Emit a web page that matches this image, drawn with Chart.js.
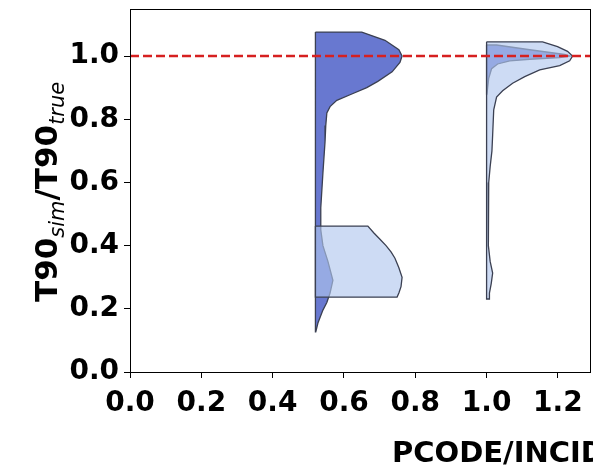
<!DOCTYPE html>
<html lang="en">
<head>
    <meta charset="UTF-8">
    <title>T90 ratio violins</title>
    <style>
        body { margin: 0; background: #fff; }
        canvas { display: block; }
    </style>
</head>
<body>
    <canvas id="violinChart" width="593" height="467"></canvas>

    <script src="https://cdn.jsdelivr.net/npm/chart.js"></script>
    <script>
        // violin positions on the x axis
        const positions = [0.52, 1.0];

        // half-violin profiles: y levels (top to bottom) and half widths
        const darkY1 = [1.076, 1.05, 1.02, 1.0, 0.98, 0.95, 0.92, 0.9, 0.88, 0.86, 0.84, 0.82, 0.78, 0.73, 0.63, 0.52, 0.45, 0.4, 0.35, 0.29, 0.25, 0.22, 0.196, 0.155, 0.127];
        const darkW1 = [0.130, 0.195, 0.234, 0.243, 0.237, 0.215, 0.175, 0.144, 0.102, 0.060, 0.041, 0.032, 0.029, 0.027, 0.021, 0.015, 0.015, 0.021, 0.035, 0.049, 0.041, 0.032, 0.021, 0.007, 0.001];

        const lightY1 = [0.462, 0.44, 0.42, 0.4, 0.38, 0.36, 0.33, 0.3, 0.27, 0.25, 0.237];
        const lightW1 = [0.147, 0.164, 0.181, 0.198, 0.212, 0.223, 0.234, 0.243, 0.240, 0.234, 0.229];

        const darkY2 = [1.035, 1.02, 1.005, 1.0, 0.995, 0.99, 0.985, 0.975, 0.96, 0.93, 0.9, 0.88];
        const darkW2 = [0.028, 0.121, 0.219, 0.233, 0.205, 0.121, 0.065, 0.031, 0.014, 0.006, 0.003, 0.001];

        const lightY2 = [1.045, 1.03, 1.015, 1.0, 0.985, 0.97, 0.956, 0.935, 0.914, 0.89, 0.87, 0.83, 0.75, 0.7, 0.65, 0.6, 0.5, 0.4, 0.35, 0.313, 0.28, 0.25, 0.231];
        const lightW2 = [0.157, 0.199, 0.227, 0.241, 0.233, 0.205, 0.149, 0.107, 0.073, 0.045, 0.028, 0.020, 0.017, 0.015, 0.010, 0.006, 0.004, 0.006, 0.010, 0.017, 0.013, 0.008, 0.008];

        const refLine = 1.0;
        const xTicks = [0.0, 0.2, 0.4, 0.6, 0.8, 1.0, 1.2];
        const yTicks = [0.0, 0.2, 0.4, 0.6, 0.8, 1.0];

        const darkFill = '#6878d0';
        const lightFill = 'rgba(176, 198, 238, 0.64)';
        const edge = '#3b4052';

        // closed outline: down the right side, back up the base line
        function halfViolin(base, ys, ws) {
            const pts = [{ x: base, y: ys[0] }];
            ys.forEach((y, i) => pts.push({ x: base + ws[i], y: y }));
            pts.push({ x: base, y: ys[ys.length - 1] });
            pts.push({ x: base, y: ys[0] });
            return pts;
        }

        function violinSet(data, fill, order) {
            return {
                data: data,
                showLine: true,
                fill: 'shape',
                backgroundColor: fill,
                borderColor: edge,
                borderWidth: 1.3,
                pointRadius: 0,
                tension: 0,
                order: order
            };
        }

        const frame = {
            id: 'frame',
            afterDatasetsDraw(chart) {
                const { ctx, chartArea: a } = chart;
                ctx.save();
                ctx.strokeStyle = '#000';
                ctx.lineWidth = 1;
                ctx.strokeRect(a.left + 0.5, a.top + 0.5, a.right - a.left, a.bottom - a.top);
                ctx.restore();
            },
            afterDraw(chart) {
                const ctx = chart.ctx;
                ctx.save();
                ctx.fillStyle = '#000';
                // x title
                ctx.font = 'bold 29px "DejaVu Sans"';
                ctx.textBaseline = 'alphabetic';
                ctx.fillText('PCODE/INCIDENT', 392, 462);
                // y title with subscripts
                ctx.translate(57, 302);
                ctx.rotate(-Math.PI / 2);
                const parts = [
                    ['T90', 'bold 31px "DejaVu Sans"', 0],
                    ['sim', 'italic 21px "DejaVu Sans"', 7],
                    ['/T90', 'bold 31px "DejaVu Sans"', 0],
                    ['true', 'italic 21px "DejaVu Sans"', 7]
                ];
                let x = 0;
                parts.forEach(([t, f, dy]) => {
                    ctx.font = f;
                    ctx.fillText(t, x, dy);
                    x += ctx.measureText(t).width;
                });
                ctx.restore();
            }
        };

        const tickFont = { family: 'DejaVu Sans', size: 28, weight: 'bold' };

        new Chart(document.getElementById('violinChart'), {
            type: 'scatter',
            data: {
                datasets: [
                    violinSet(halfViolin(positions[0], darkY1, darkW1), darkFill, 4),
                    violinSet(halfViolin(positions[0], lightY1, lightW1), lightFill, 3),
                    violinSet(halfViolin(positions[1], darkY2, darkW2), darkFill, 4),
                    violinSet(halfViolin(positions[1], lightY2, lightW2), lightFill, 3),
                    {
                        data: [{ x: 0, y: refLine }, { x: 1.29, y: refLine }],
                        showLine: true,
                        borderColor: '#d62020',
                        borderWidth: 2.5,
                        borderDash: [9, 4],
                        pointRadius: 0,
                        order: 1
                    }
                ]
            },
            options: {
                responsive: false,
                animation: false,
                devicePixelRatio: 1,
                layout: { padding: { top: 9, right: 3, left: 0, bottom: 0 } },
                plugins: {
                    legend: { display: false },
                    tooltip: { enabled: false }
                },
                scales: {
                    x: {
                        type: 'linear',
                        min: 0,
                        max: 1.29,
                        afterBuildTicks: s => { s.ticks = xTicks.map(v => ({ value: v })); },
                        afterFit: s => { s.height = 95; s.paddingLeft = 0; s.paddingRight = 0; },
                        ticks: {
                            font: tickFont,
                            color: '#000',
                            padding: 9,
                            maxRotation: 0,
                            callback: v => v.toFixed(1)
                        },
                        grid: { drawOnChartArea: false, tickLength: 6, color: '#000' },
                        border: { color: '#000', width: 1 }
                    },
                    y: {
                        type: 'linear',
                        min: 0,
                        max: 1.149,
                        afterBuildTicks: s => { s.ticks = yTicks.map(v => ({ value: v })); },
                        afterFit: s => { s.width = 130; s.paddingTop = 0; s.paddingBottom = 0; },
                        ticks: {
                            font: tickFont,
                            color: '#000',
                            padding: 5,
                            callback: v => v.toFixed(1)
                        },
                        grid: { drawOnChartArea: false, tickLength: 6, color: '#000' },
                        border: { color: '#000', width: 1 }
                    }
                }
            },
            plugins: [frame]
        });
    </script>
</body>
</html>
